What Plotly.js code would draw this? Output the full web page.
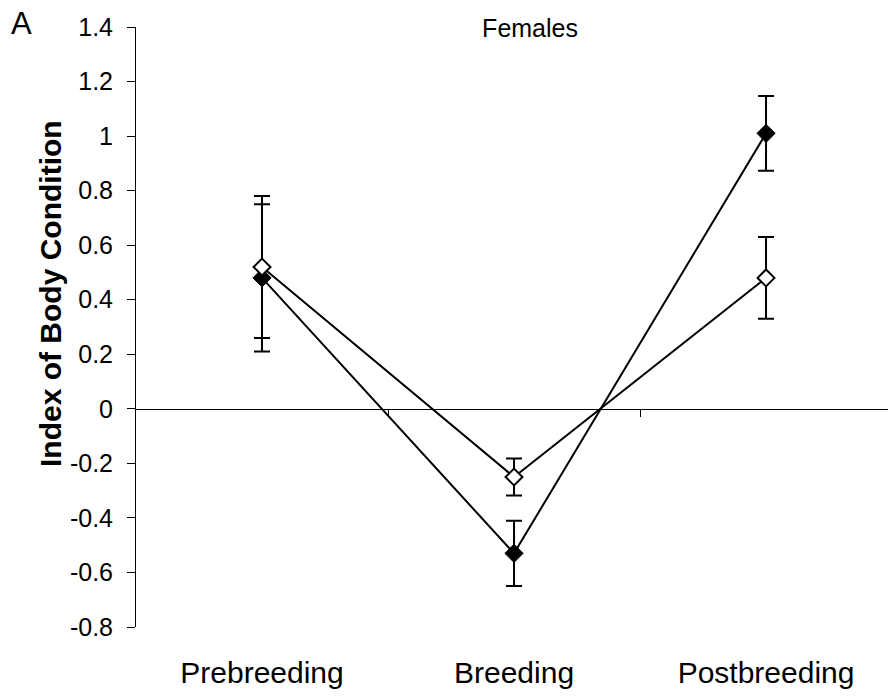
<!DOCTYPE html>
<html>
<head>
<meta charset="utf-8">
<script src="https://cdn.plot.ly/plotly-3.0.1.min.js"></script>
<style>html,body{margin:0;padding:0;background:#fff;}#chart{width:888px;height:696px;}</style>
</head>
<body>
<div id="chart"></div>
<script>
// Data
const categories = ['Prebreeding', 'Breeding', 'Postbreeding'];
const categoryPos = [0, 1, 2];
const filledVals = [0.48, -0.53, 1.01];
const filledErr = [0.27, 0.12, 0.137];
const openVals = [0.52, -0.25, 0.48];
const openErr = [0.26, 0.068, 0.15];
const yTickVals = [-0.8, -0.6, -0.4, -0.2, 0, 0.2, 0.4, 0.6, 0.8, 1, 1.2, 1.4];
const yTickText = ['-0.8', '-0.6', '-0.4', '-0.2', '0', '0.2', '0.4', '0.6', '0.8', '1', '1.2', '1.4'];
const dividerTicks = [0.5, 1.5];
const yTitle = 'Index of Body Condition';

const FONT = 'Liberation Sans, Arial, sans-serif';

const traces = [
  {
    x: categoryPos, y: filledVals, type: 'scatter', mode: 'lines+markers',
    line: {color: '#000', width: 2},
    marker: {symbol: 'diamond', size: 14, color: '#000', line: {color: '#000', width: 1}},
    error_y: {type: 'data', array: filledErr, visible: true, color: '#000', thickness: 2, width: 8},
    showlegend: false, hoverinfo: 'skip'
  },
  {
    x: categoryPos, y: openVals, type: 'scatter', mode: 'lines+markers',
    line: {color: '#000', width: 2},
    marker: {symbol: 'diamond', size: 13, color: '#fff', line: {color: '#000', width: 2}},
    error_y: {type: 'data', array: openErr, visible: true, color: '#000', thickness: 2, width: 8},
    showlegend: false, hoverinfo: 'skip'
  },
  {
    x: [], y: [], xaxis: 'x2', yaxis: 'y', type: 'scatter', mode: 'none',
    showlegend: false, hoverinfo: 'skip'
  }
];

const xr = [-0.5, 2.484];
const layout = {
  width: 888, height: 696,
  margin: {l: 136, r: 0, t: 27, b: 69},
  paper_bgcolor: '#fff', plot_bgcolor: '#fff',
  font: {family: FONT, color: '#000'},
  title: {
    text: 'Females', font: {family: FONT, size: 25, color: '#000'},
    xref: 'paper', x: 0.524, xanchor: 'center',
    yref: 'container', y: 1 - 28/696, yanchor: 'middle'
  },
  xaxis: {
    range: xr, tickvals: categoryPos, ticktext: categories,
    showline: false, showgrid: false, zeroline: false, ticks: '',
    tickfont: {family: FONT, size: 30, color: '#000'},
    ticklabelstandoff: 25
  },
  xaxis2: {
    range: xr, overlaying: 'x', anchor: 'free', position: 0.8/2.2,
    showline: true, linecolor: '#000', linewidth: 1,
    showgrid: false, zeroline: false,
    tickvals: dividerTicks, ticks: 'outside', ticklen: 7, tickcolor: '#000', tickwidth: 1,
    showticklabels: false
  },
  yaxis: {
    range: [-0.8, 1.4], tickvals: yTickVals, ticktext: yTickText,
    showline: true, linecolor: '#000', linewidth: 1,
    showgrid: false, zeroline: false,
    ticks: 'outside', ticklen: 8, tickcolor: '#000', tickwidth: 1,
    tickfont: {family: FONT, size: 25, color: '#000'},
    ticklabelstandoff: 9
  },
  annotations: [
    {text: 'A', xref: 'paper', yref: 'paper', x: (22 - 136)/752, y: (627 - 23)/600,
     xanchor: 'center', yanchor: 'middle', showarrow: false,
     font: {family: FONT, size: 31, color: '#000'}},
    {text: '<b>' + yTitle + '</b>', xref: 'paper', yref: 'paper',
     x: (51 - 136)/752, y: (627 - 294)/600, textangle: -90,
     xanchor: 'center', yanchor: 'middle', showarrow: false,
     font: {family: FONT, size: 30, color: '#000'}}
  ]
};

Plotly.newPlot('chart', traces, layout, {staticPlot: true, displayModeBar: false});
</script>
</body>
</html>
